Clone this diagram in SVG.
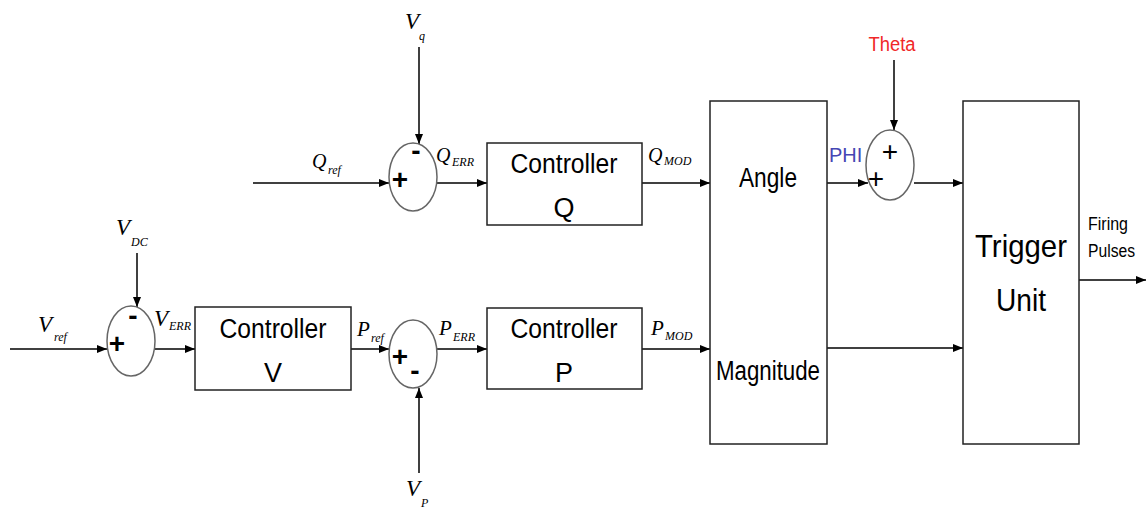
<svg xmlns="http://www.w3.org/2000/svg" width="1146" height="508" viewBox="0 0 1146 508">
<style>
.box{fill:#fff;stroke:#222;stroke-width:1.5}
.sum{fill:#fff;stroke:#666;stroke-width:1.5}
.ln{fill:none;stroke:#000;stroke-width:1.5;marker-end:url(#ah)}
.t{font-family:"Liberation Sans",Arial,sans-serif;fill:#000;text-anchor:middle}
.big{font-size:27px}
.var{font-family:"Liberation Serif","Times New Roman",serif;font-style:italic;fill:#000}
.sub{font-size:12px}
.sg{font-family:"Liberation Sans",Arial,sans-serif;font-weight:bold;font-size:28px;text-anchor:middle;fill:#000}
.sg2{font-family:"Liberation Sans",Arial,sans-serif;font-size:28px;text-anchor:middle;fill:#000}
</style>
<defs>
<marker id="ah" markerUnits="userSpaceOnUse" markerWidth="11" markerHeight="9" refX="10" refY="4" orient="auto">
<path d="M0,0 L10,4 L0,8 z" fill="#000"/>
</marker>
</defs>
<rect width="1146" height="508" fill="#fff"/>

<g id="connectors">
<line class="ln" x1="253" y1="183" x2="389" y2="183"/>
<line class="ln" x1="419" y1="47" x2="419" y2="144"/>
<line class="ln" x1="437" y1="183" x2="487" y2="183"/>
<line class="ln" x1="642" y1="183" x2="710" y2="183"/>
<line class="ln" x1="827" y1="183" x2="868" y2="183"/>
<line class="ln" x1="894" y1="60" x2="894" y2="130"/>
<line class="ln" x1="914" y1="183" x2="963" y2="183"/>
<line class="ln" x1="827" y1="348" x2="963" y2="348"/>
<line class="ln" x1="1079" y1="280" x2="1146" y2="280"/>
<line class="ln" x1="10" y1="349" x2="107" y2="349"/>
<line class="ln" x1="137" y1="253" x2="137" y2="307"/>
<line class="ln" x1="155" y1="349" x2="195" y2="349"/>
<line class="ln" x1="351" y1="349" x2="389" y2="349"/>
<line class="ln" x1="419" y1="473" x2="419" y2="388"/>
<line class="ln" x1="437" y1="349" x2="487" y2="349"/>
<line class="ln" x1="642" y1="349" x2="710" y2="349"/>
</g>

<g id="sumQ">
<ellipse class="sum" cx="413" cy="177" rx="24" ry="34"/>
<text class="sg" x="400" y="189">+</text>
<text class="sg" x="416" y="160">-</text>
</g>
<g id="ctrlQ">
<rect class="box" x="487" y="143" width="155" height="82"/>
<text class="t big" x="564" y="173" textLength="107" lengthAdjust="spacingAndGlyphs">Controller</text>
<text class="t big" x="564" y="217">Q</text>
</g>
<g id="angleMag">
<rect class="box" x="710" y="101" width="117" height="343"/>
<text class="t big" x="768" y="187" textLength="58" lengthAdjust="spacingAndGlyphs">Angle</text>
<text class="t big" x="768" y="380" textLength="104" lengthAdjust="spacingAndGlyphs">Magnitude</text>
</g>
<g id="sumTheta">
<ellipse class="sum" cx="890" cy="165" rx="24" ry="35"/>
<text class="sg2" x="890" y="161">+</text>
<text class="sg2" x="876" y="188">+</text>
</g>
<g id="trigger">
<rect class="box" x="963" y="101" width="116" height="343"/>
<text class="t" x="1021" y="257" font-size="32" textLength="92" lengthAdjust="spacingAndGlyphs">Trigger</text>
<text class="t" x="1021" y="311" font-size="32" textLength="50" lengthAdjust="spacingAndGlyphs">Unit</text>
</g>
<g id="sumV">
<ellipse class="sum" cx="131" cy="341" rx="24" ry="35"/>
<text class="sg" x="117" y="353">+</text>
<text class="sg" x="133" y="325">-</text>
</g>
<g id="ctrlV">
<rect class="box" x="195" y="307" width="156" height="83"/>
<text class="t big" x="273" y="338" textLength="107" lengthAdjust="spacingAndGlyphs">Controller</text>
<text class="t big" x="273" y="382">V</text>
</g>
<g id="sumP">
<ellipse class="sum" cx="413" cy="354" rx="24" ry="34"/>
<text class="sg" x="400" y="366">+</text>
<text class="sg" x="415" y="380">-</text>
</g>
<g id="ctrlP">
<rect class="box" x="487" y="308" width="155" height="81"/>
<text class="t big" x="564" y="338" textLength="107" lengthAdjust="spacingAndGlyphs">Controller</text>
<text class="t big" x="564" y="382">P</text>
</g>

<g id="labels">
<text class="var" x="405" y="29" font-size="23">V</text><text class="var sub" x="419" y="40">q</text>
<text class="var" x="312" y="168" font-size="20">Q</text><text class="var sub" x="328" y="174">ref</text>
<text class="var" x="436" y="162" font-size="20">Q</text><text class="var sub" x="452" y="166">ERR</text>
<text class="var" x="648" y="162" font-size="20">Q</text><text class="var sub" x="664" y="165">MOD</text>
<text class="var" x="116" y="235" font-size="23">V</text><text class="var sub" x="131" y="246">DC</text>
<text class="var" x="38" y="332" font-size="23">V</text><text class="var sub" x="54" y="341">ref</text>
<text class="var" x="154" y="326" font-size="23">V</text><text class="var sub" x="169" y="330">ERR</text>
<text class="var" x="357" y="336" font-size="21">P</text><text class="var sub" x="371" y="342">ref</text>
<text class="var" x="439" y="335" font-size="21">P</text><text class="var sub" x="453" y="341">ERR</text>
<text class="var" x="651" y="335" font-size="21">P</text><text class="var sub" x="665" y="340">MOD</text>
<text class="var" x="406" y="496" font-size="23">V</text><text class="var sub" x="421" y="507">P</text>
<text x="829" y="162" font-family="Liberation Sans, Arial, sans-serif" font-size="20" fill="#4646b4">PHI</text>
<text x="892" y="51" font-family="Liberation Sans, Arial, sans-serif" font-size="20" fill="#f02828" text-anchor="middle" textLength="47" lengthAdjust="spacingAndGlyphs">Theta</text>
<text x="1088" y="230" font-family="Liberation Sans, Arial, sans-serif" font-size="18" textLength="40" lengthAdjust="spacingAndGlyphs">Firing</text>
<text x="1088" y="257" font-family="Liberation Sans, Arial, sans-serif" font-size="18" textLength="47" lengthAdjust="spacingAndGlyphs">Pulses</text>
</g>
</svg>
